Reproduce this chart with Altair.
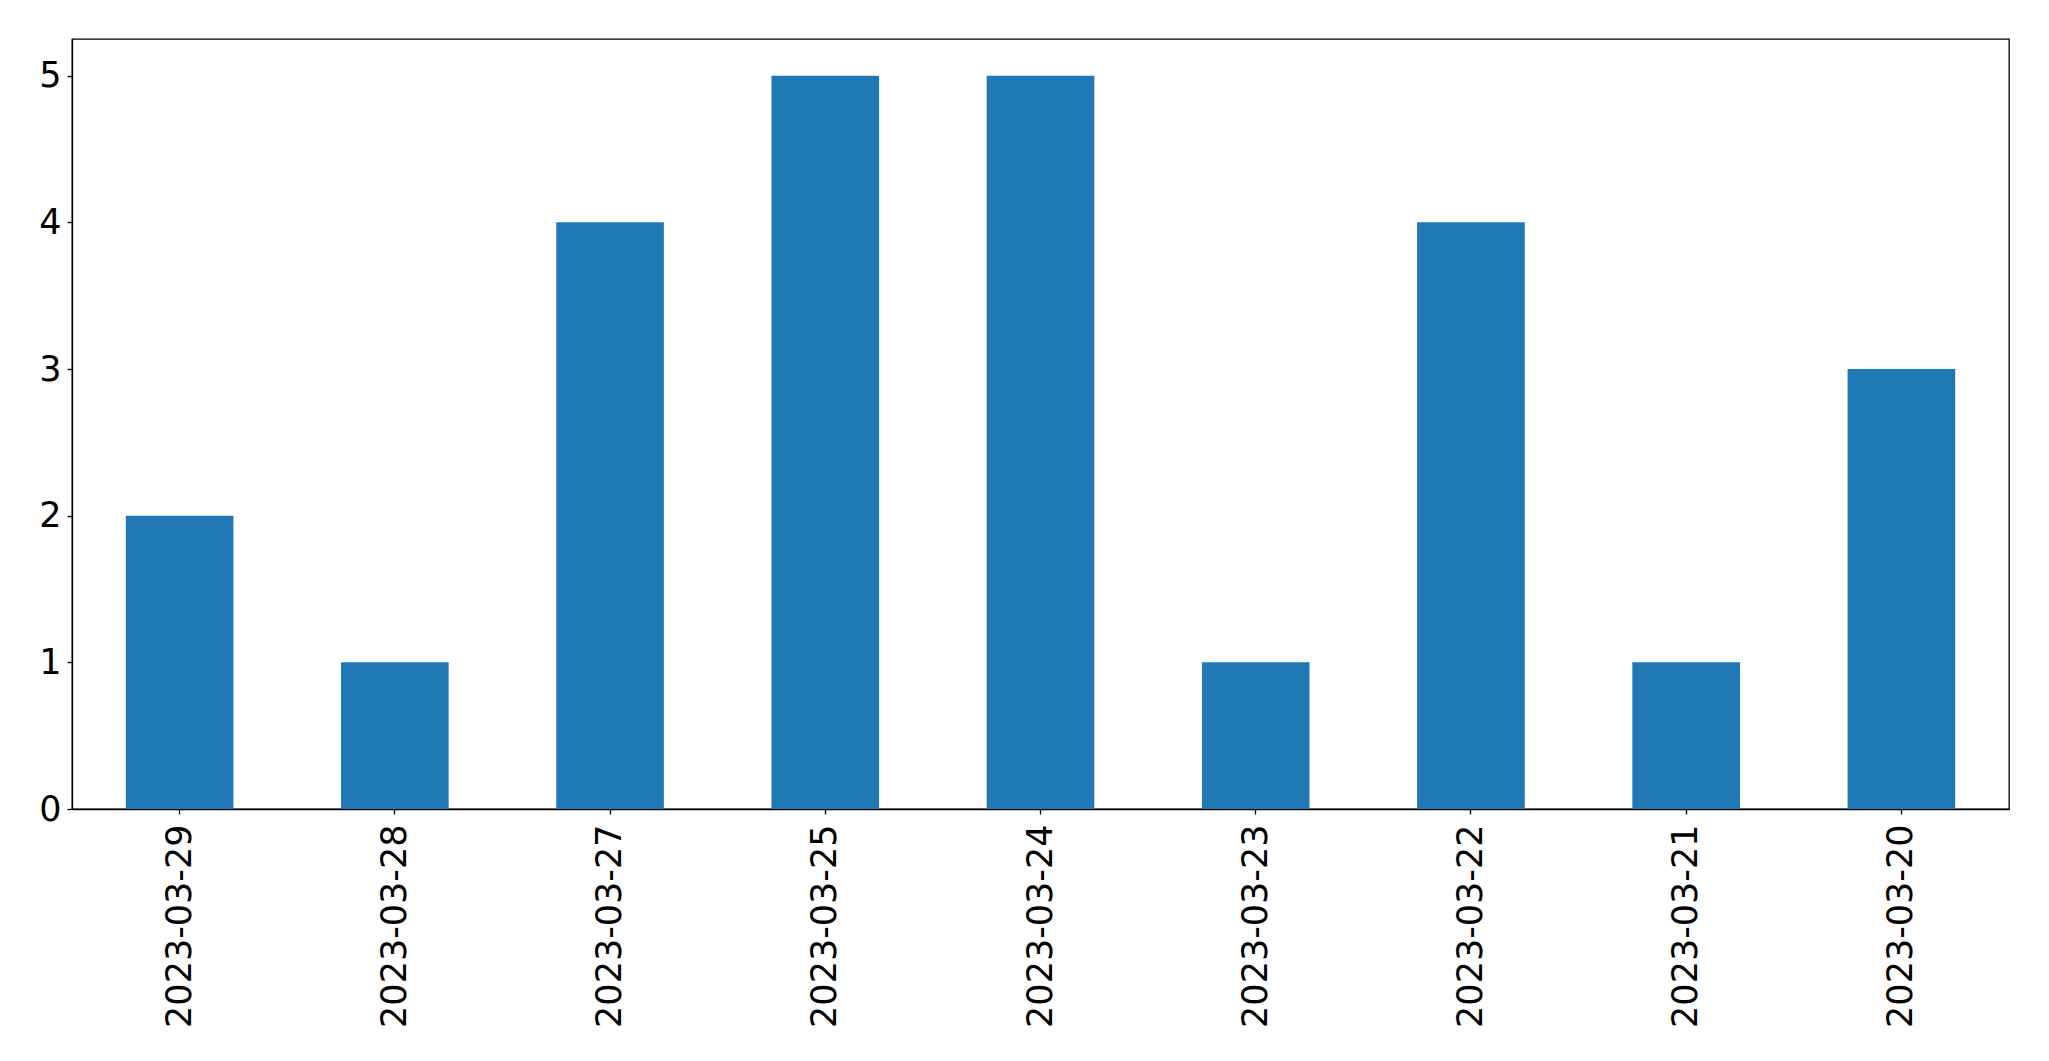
import altair as alt
import pandas as pd

dates = ["2023-03-29", "2023-03-28", "2023-03-27", "2023-03-25", "2023-03-24",
         "2023-03-23", "2023-03-22", "2023-03-21", "2023-03-20"]
counts = [2, 1, 4, 5, 5, 1, 4, 1, 3]

df = pd.DataFrame({"date": dates, "count": counts})

chart = alt.Chart(df).mark_bar(color="#1f77b4").encode(
    x=alt.X("date:N", sort=dates, title=None,
            scale=alt.Scale(paddingInner=0.5, paddingOuter=0.25),
            axis=alt.Axis(labelAngle=-90, labelFontSize=35, labelFont="DejaVu Sans",
                          labelColor="black", tickColor="black", domainColor="black",
                          tickSize=5, labelPadding=10, labelAlign="right",
                          labelBaseline="middle", labelLimit=0,
                          domainWidth=1.3, tickWidth=1.3)),
    y=alt.Y("count:Q", title=None,
            scale=alt.Scale(domain=[0, 5.25], nice=False, zero=True),
            axis=alt.Axis(values=[0, 1, 2, 3, 4, 5], format="d", labelFontSize=35,
                          labelFont="DejaVu Sans", labelColor="black",
                          tickColor="black", domainColor="black", tickSize=5,
                          labelPadding=6, grid=False, domainWidth=1.3, tickWidth=1.3)),
).properties(
    width=1937, height=770,
    autosize=alt.AutoSizeParams(type="none"),
    padding={"left": 64, "top": 31, "right": 20, "bottom": 230},
).configure_view(stroke="black", strokeWidth=1.3)

chart.save("out.html", embed_options={"renderer": "svg", "actions": False})
